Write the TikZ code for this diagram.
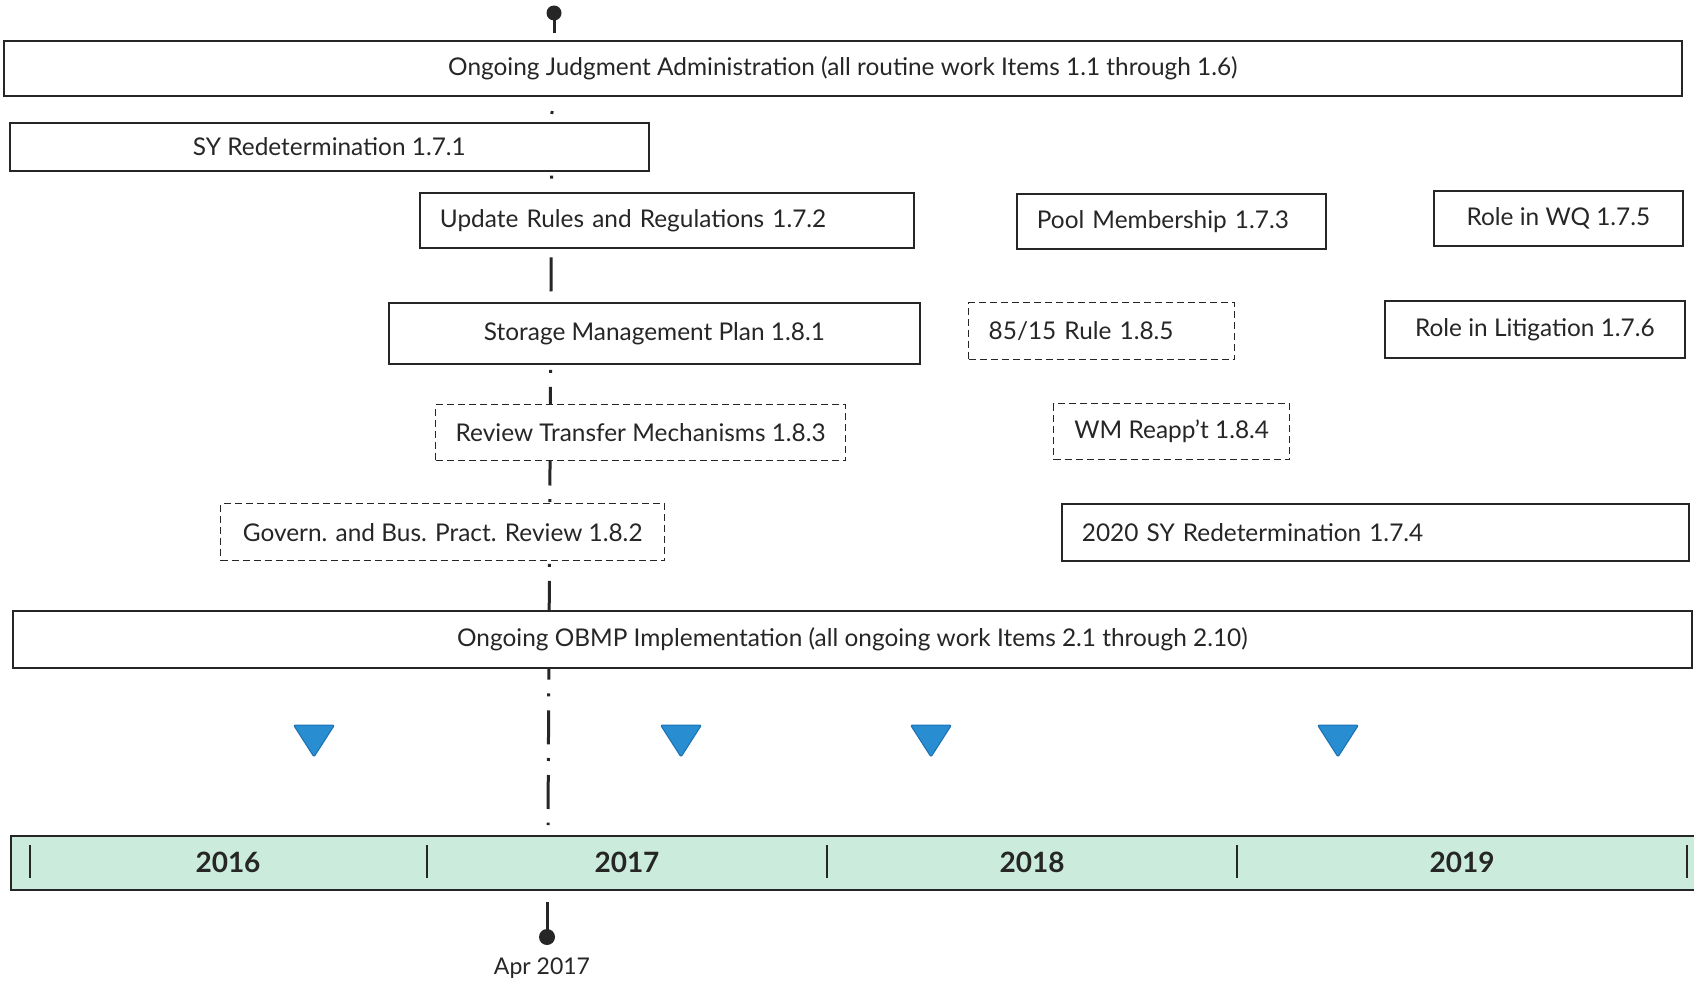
\documentclass[tikz,border=0pt]{standalone}
\usepackage{fontspec}
\setmainfont{Lato}
\usetikzlibrary{positioning}
\definecolor{barfill}{RGB}{203,236,220}
\definecolor{mileblue}{RGB}{41,141,210}
\definecolor{mileedge}{RGB}{28,112,178}

\begin{document}
\begin{tikzpicture}
[
x=1pt, y=-1pt
, every node/.style={font=\fontsize{24.4}{28}\selectfont, text=black!85}
, task/.style={draw=black!85, line width=1.8pt, fill=white, anchor=north west, inner sep=0pt}
, plan/.style={task, line width=1.4pt, dash pattern=on 7pt off 4pt}
, lefttask/.style={inner xsep=20pt, align=left}
]
\useasboundingbox (0,0) rectangle (1694,982);

% Apr 2017 line
\coordinate (aprtop) at (552,111);
\coordinate (aprbot) at (548,825);
\draw[line width=3pt, black!85, dash pattern=on 3pt off 14pt on 34pt off 13.7pt] (aprtop) -- (aprbot);

% top pin
\coordinate (pinhead) at (554,13);
\coordinate (pinfoot) at (554,33);
\draw[line width=3pt, black!85] (pinhead) -- (pinfoot);
\fill[black!85] (pinhead) circle (7.5pt);

% work items
\node[task, minimum width=1678pt, minimum height=55pt] (judg) at (3,40) {Ongoing Judgment Administration (all routine work Items 1.1 through 1.6)};
\node[task, minimum width=639pt, minimum height=48pt] (syred) at (9,122) {SY Redetermination 1.7.1};
\node[task, lefttask, text width=454pt, minimum height=55pt] (rules) at (419,192) {Update Rules and Regulations 1.7.2};
\node[task, lefttask, text width=269pt, minimum height=55pt] (pool) at (1016,193) {Pool Membership 1.7.3};
\node[task, minimum width=249pt, minimum height=55pt] (wq) at (1433,190) {Role in WQ 1.7.5};
\node[task, minimum width=531pt, minimum height=61pt] (smp) at (388,302) {Storage Management Plan 1.8.1};
\node[plan, lefttask, text width=226pt, minimum height=57pt] (rule) at (968,302) {85/15 Rule 1.8.5};
\node[task, minimum width=300pt, minimum height=57pt] (litig) at (1384,300) {Role in Litigation 1.7.6};
\node[plan, minimum width=410pt, minimum height=56pt] (transfer) at (435,404) {Review Transfer Mechanisms 1.8.3};
\node[plan, minimum width=236pt, minimum height=56pt] (wm) at (1053,403) {WM Reapp’t 1.8.4};
\node[plan, minimum width=444pt, minimum height=57pt] (govern) at (220,503) {Govern. and Bus. Pract. Review 1.8.2};
\node[task, lefttask, text width=587pt, minimum height=57pt] (sytwenty) at (1061,503) {2020 SY Redetermination 1.7.4};
\node[task, minimum width=1679pt, minimum height=57pt] (obmp) at (12,610) {Ongoing OBMP Implementation (all ongoing work Items 2.1 through 2.10)};

% milestones
\foreach \cx in {314,681,931,1338}
  \draw[fill=mileblue, draw=mileedge, line width=1pt, rounded corners=2pt] (\cx-20.5,725) -- (\cx+20.5,725) -- (\cx,757) -- cycle;

% years
\node[task, fill=barfill, minimum width=1692pt, minimum height=54pt] (bar) at (10,835) {};
\foreach \tx in {30,427,827,1237,1687}
  \draw[line width=1.5pt, black!85] (\tx,845) -- (\tx,878);
\begin{scope}[every node/.style={font=\fontsize{28}{32}\selectfont\bfseries, text=black!85}]
\node (ysixteen) at (228,862) {2016};
\node (yseventeen) at (627,862) {2017};
\node (yeighteen) at (1032,862) {2018};
\node (ynineteen) at (1462,862) {2019};
\end{scope}

% Apr 2017 pin
\coordinate (aprstem) at (547,902);
\coordinate (aprdot) at (547,937);
\draw[line width=3pt, black!85] (aprstem) -- (aprdot);
\fill[black!85] (aprdot) circle (8pt);
\node[font=\fontsize{23}{27}\selectfont] (aprlabel) at (542,968) {Apr 2017};

\end{tikzpicture}
\end{document}
